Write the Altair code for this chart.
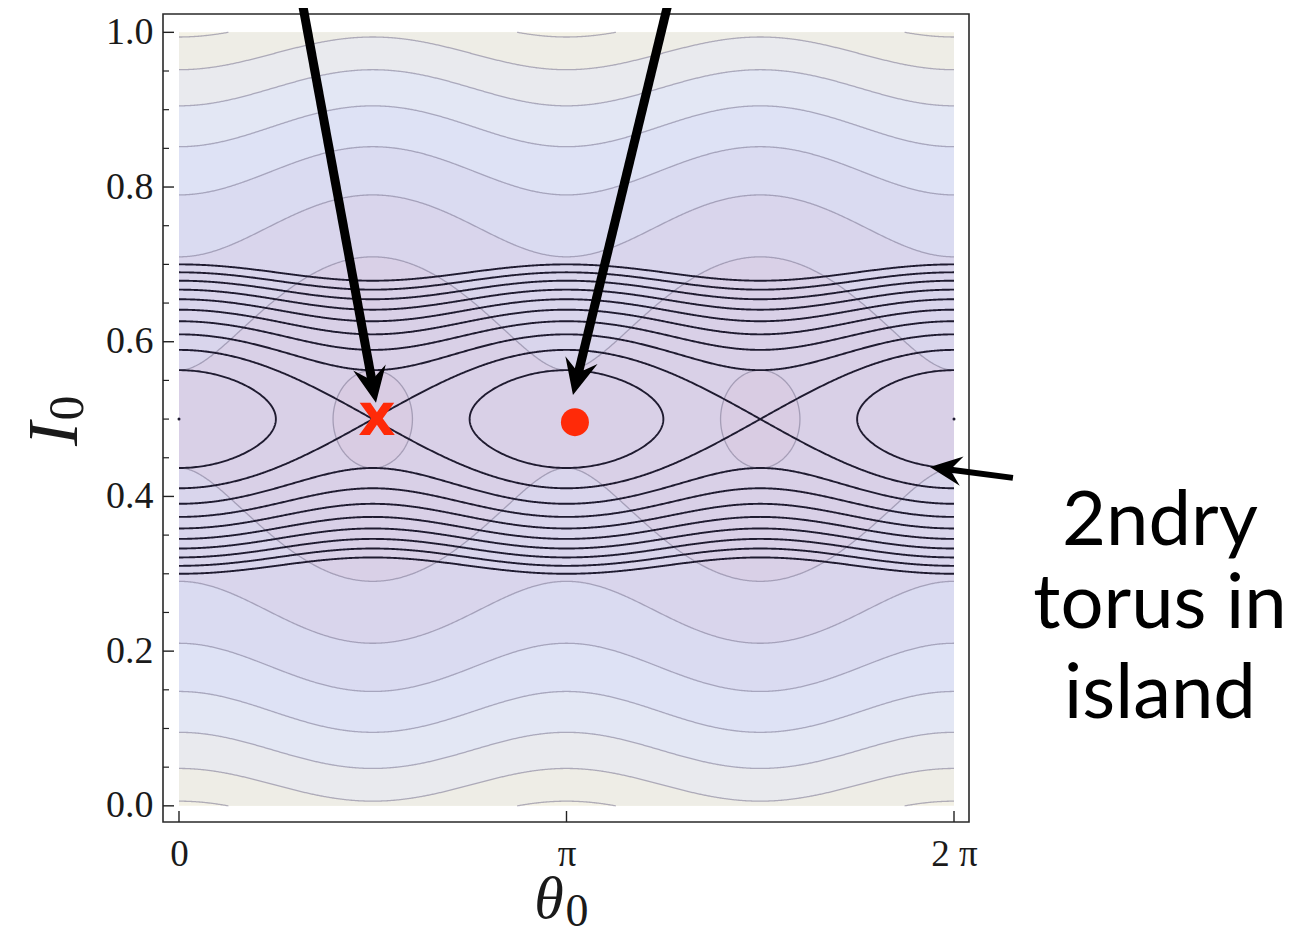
import numpy as np
import pandas as pd
import altair as alt

# ---------------- values ----------------
I_RES = 0.5                     # resonance centre in I0
A_RES = 0.004                   # black contours: H = (I-I_RES)^2 - A_RES*cos(2*theta)
H_LEVEL_STEPS = [0, 1, 2, 3, 4, 5, 6, 7, 8, 9]      # drawn levels H = k*A_RES
H_CENTRES = [0.0, np.pi, 2 * np.pi]                 # elliptic points (level -A_RES)
B_BG = 0.02                     # background: G = (I-I_RES)^2 + B_BG*cos(2*theta)
G_LEVELS = [-0.016, 0.024, 0.064, 0.104, 0.144, 0.184, 0.224, 0.264]
G_CENTRES = [np.pi / 2, 3 * np.pi / 2]
BAND_COLORS = ["#d9cce3", "#d9d0e7", "#d9d5ec", "#dadbf1", "#dee2f5",
               "#e3e7f4", "#e9eaee", "#eeede6", "#f3f1e5"]
X_TICKS = [0.0, np.pi, 2 * np.pi]
X_TICK_LABELS = ["0", "π", "2 π"]
Y_TICKS = [0.0, 0.2, 0.4, 0.6, 0.8, 1.0]
Y_MINOR_TICKS = [0.05, 0.1, 0.15, 0.25, 0.3, 0.35, 0.45, 0.5, 0.55,
                 0.65, 0.7, 0.75, 0.85, 0.9, 0.95]
X_POINT = [1.605, 0.499]        # red "x" (hyperbolic point)
O_POINT = [3.210, 0.496]        # red dot (elliptic point)
ARROW_TIPS = [[1.597, 0.521], [3.194, 0.531], [6.088, 0.438]]
ARROW_TAILS = [[0.965, 1.068], [4.012, 1.068], [6.761, 0.424]]
ARROW_WIDTHS = [9, 9, 6]
ARROW_HEADS = [36, 36, 32]
NOTE_LINES = ["2ndry", "torus in", "island"]
NOTE_THETA = 7.953
NOTE_I = [0.367, 0.260, 0.143]

# ---------------- layout ----------------
W, H = 806, 808
XDOM = [-0.1297, 2 * np.pi + 0.1216]
YDOM = [-0.0209, 1.0237]
KX = W / (XDOM[1] - XDOM[0])
KY = H / (YDOM[1] - YDOM[0])
RED = "#ff2a08"
SERIF = "Liberation Serif"
INK = "#1a1a1a"

xs = alt.Scale(domain=XDOM, nice=False, zero=False)
ys = alt.Scale(domain=YDOM, nice=False, zero=False)

thr = [(X_TICKS[i] + X_TICKS[i + 1]) / 2 for i in range(len(X_TICKS) - 1)]
expr = f"'{X_TICK_LABELS[-1]}'"
for t, lab in reversed(list(zip(thr, X_TICK_LABELS[:-1]))):
    expr = f"datum.value < {t:.4f} ? '{lab}' : ({expr})"

xaxis = alt.Axis(values=X_TICKS, labelExpr=expr, title=None, ticks=False, tickSize=0,
                 domain=False, grid=False, labelPadding=14, labelFont=SERIF,
                 labelFontSize=37, labelColor=INK, labelFlush=False)
yaxis = alt.Axis(values=Y_TICKS, format=".1f", title=None, ticks=False, tickSize=0,
                 domain=False, grid=False, labelPadding=10, labelFont=SERIF,
                 labelFontSize=38, labelColor=INK, labelFlush=False)


def X(f):
    return alt.X(f, type="quantitative", scale=xs, axis=xaxis)


def Y(f):
    return alt.Y(f, type="quantitative", scale=ys, axis=yaxis)


def runs(mask, extend=True):
    idx = np.flatnonzero(mask)
    if len(idx) == 0:
        return []
    sp = np.where(np.diff(idx) > 1)[0]
    starts = np.r_[idx[0], idx[sp + 1]]
    ends = np.r_[idx[sp], idx[-1]]
    if not extend:
        return list(zip(starts, ends))
    return [(max(s - 1, 0), min(e + 1, len(mask) - 1)) for s, e in zip(starts, ends)]


TH = np.linspace(0, 2 * np.pi, 801)
layers = []

# ---- shaded bands of the background function ----
base = alt.Chart(pd.DataFrame({"t0": [0.0], "t1": [2 * np.pi], "i0": [0.0], "i1": [1.0]})
                 ).mark_rect(color=BAND_COLORS[-1]).encode(
    x=X("t0"), x2="t1", y=Y("i0"), y2="i1")
layers.append(base)

for k in range(len(G_LEVELS) - 1, -1, -1):
    L = G_LEVELS[k]
    if L > B_BG:
        p = np.sqrt(L - B_BG * np.cos(2 * TH))
        df = pd.DataFrame({"theta": TH, "lo": np.clip(I_RES - p, 0, 1),
                           "hi": np.clip(I_RES + p, 0, 1), "seg": 0})
    else:
        parts = []
        phi0 = 0.5 * np.arccos(-L / B_BG)
        phi = phi0 * np.sin(np.linspace(-np.pi / 2, np.pi / 2, 121))
        p = np.sqrt(np.clip(L + B_BG * np.cos(2 * phi), 0, None))
        for j, c in enumerate(G_CENTRES):
            parts.append(pd.DataFrame({"theta": c + phi, "lo": I_RES - p,
                                       "hi": I_RES + p, "seg": j}))
        df = pd.concat(parts)
    layers.append(alt.Chart(df).mark_area(color=BAND_COLORS[k], opacity=1).encode(
        x=X("theta"), y=Y("lo"), y2="hi", detail="seg:N"))

# ---- grey contour lines of the background function ----
grey = []
sid = 0
for L in G_LEVELS:
    if L > B_BG:
        p = np.sqrt(L - B_BG * np.cos(2 * TH))
        for sgn in (1, -1):
            I = I_RES + sgn * p
            for s, e in runs((I >= 0) & (I <= 1)):
                grey.append(pd.DataFrame({"theta": TH[s:e + 1], "I": np.clip(I[s:e + 1], 0, 1),
                                          "k": np.arange(e - s + 1), "seg": sid}))
                sid += 1
    else:
        phi0 = 0.5 * np.arccos(-L / B_BG)
        phi = phi0 * np.sin(np.linspace(-np.pi / 2, np.pi / 2, 121))
        p = np.sqrt(np.clip(L + B_BG * np.cos(2 * phi), 0, None))
        for c in G_CENTRES:
            th = np.r_[c + phi, c + phi[::-1]]
            I = np.r_[I_RES + p, I_RES - p[::-1]]
            grey.append(pd.DataFrame({"theta": th, "I": I, "k": np.arange(len(th)), "seg": sid}))
            sid += 1
grey = pd.concat(grey)
layers.append(alt.Chart(grey).mark_line(color="#7a7590", strokeWidth=1.3, opacity=0.55).encode(
    x=X("theta"), y=Y("I"), detail="seg:N", order="k:Q"))

# ---- black contours of the resonance Hamiltonian ----
blk = []
sid = 0
for n in H_LEVEL_STEPS:
    if n == 0:
        phi = (np.pi / 4) * np.sin(np.linspace(-np.pi / 2, np.pi / 2, 161))
        p = np.sqrt(np.clip(A_RES * np.cos(2 * phi), 0, None))
        for c in H_CENTRES:
            th = c + phi
            for sgn in (1, -1):
                I = I_RES + sgn * p
                for s, e in runs((th >= -1e-9) & (th <= 2 * np.pi + 1e-9), extend=False):
                    blk.append(pd.DataFrame({"theta": th[s:e + 1], "I": I[s:e + 1],
                                             "k": np.arange(e - s + 1), "seg": sid}))
                    sid += 1
    else:
        p = np.sqrt(np.clip(A_RES * (n + np.cos(2 * TH)), 0, None))
        for sgn in (1, -1):
            blk.append(pd.DataFrame({"theta": TH, "I": I_RES + sgn * p,
                                     "k": np.arange(len(TH)), "seg": sid}))
            sid += 1
blk = pd.concat(blk)
layers.append(alt.Chart(blk).mark_line(color="#1f1b30", strokeWidth=1.9).encode(
    x=X("theta"), y=Y("I"), detail="seg:N", order="k:Q"))

centres = pd.DataFrame({"theta": H_CENTRES, "I": [I_RES] * len(H_CENTRES)})
layers.append(alt.Chart(centres).mark_point(filled=True, size=9, color="#1f1b30", opacity=1).encode(
    x=X("theta"), y=Y("I")))

# ---- frame ticks (inward) ----
layers.append(alt.Chart(pd.DataFrame({"v": Y_TICKS})).mark_rule(color="#222", strokeWidth=1.4).encode(
    y=Y("v"), x=alt.value(0), x2=alt.value(11)))
layers.append(alt.Chart(pd.DataFrame({"v": Y_MINOR_TICKS})).mark_rule(color="#222", strokeWidth=1.2).encode(
    y=Y("v"), x=alt.value(0), x2=alt.value(6)))
layers.append(alt.Chart(pd.DataFrame({"v": X_TICKS})).mark_rule(color="#222", strokeWidth=1.4).encode(
    x=X("v"), y=alt.value(H), y2=alt.value(H - 11)))

# ---- red markers ----
layers.append(alt.Chart(pd.DataFrame({"theta": [O_POINT[0]], "I": [O_POINT[1]]})).mark_point(
    shape="circle", filled=True, size=784, color=RED, opacity=1).encode(x=X("theta"), y=Y("I")))
layers.append(alt.Chart(pd.DataFrame({"theta": [X_POINT[0]], "I": [X_POINT[1]]})).mark_text(
    text="x", font="DejaVu Sans", fontWeight="bold", fontSize=58, color=RED,
    baseline="alphabetic", align="center", dy=15).encode(x=X("theta"), y=Y("I")))

# ---- arrows ----
shafts, heads = [], []
for (tt, ti), (st, si), w, hs in zip(ARROW_TIPS, ARROW_TAILS, ARROW_WIDTHS, ARROW_HEADS):
    tx, ty = (tt - XDOM[0]) * KX, (YDOM[1] - ti) * KY
    sx, sy = (st - XDOM[0]) * KX, (YDOM[1] - si) * KY
    d = np.hypot(tx - sx, ty - sy)
    ux, uy = (tx - sx) / d, (ty - sy) / d
    ex, ey = tx - ux * hs * 0.6, ty - uy * hs * 0.6
    cx, cy = tx - ux * hs / 2, ty - uy * hs / 2
    shafts.append({"t0": st, "i0": si, "t1": XDOM[0] + ex / KX, "i1": YDOM[1] - ey / KY, "w": w})
    heads.append({"theta": XDOM[0] + cx / KX, "I": YDOM[1] - cy / KY,
                  "ang": float(np.degrees(np.arctan2(ux, -uy)) % 360), "size": hs * hs})
layers.append(alt.Chart(pd.DataFrame(shafts)).mark_rule(color="black", strokeCap="butt").encode(
    x=X("t0"), y=Y("i0"), x2="t1", y2="i1", strokeWidth=alt.StrokeWidth("w:Q", scale=None)))
layers.append(alt.Chart(pd.DataFrame(heads)).mark_point(
    shape="M0,-1 L0.92,1 L0,0.28 L-0.92,1 Z", filled=True, color="black", opacity=1, strokeWidth=0).encode(
    x=X("theta"), y=Y("I"), angle=alt.Angle("ang:Q", scale=None), size=alt.Size("size:Q", scale=None)))

# ---- note text ----
layers.append(alt.Chart(pd.DataFrame({"theta": [NOTE_THETA] * 3, "I": NOTE_I, "txt": NOTE_LINES})).mark_text(
    font="Lato", fontSize=76, color="black", align="center", baseline="middle").encode(
    x=X("theta"), y=Y("I"), text="txt:N"))

# ---- axis titles ----
layers.append(alt.Chart(pd.DataFrame({"a": [0]})).mark_text(
    text="θ", font=SERIF, fontStyle="italic", fontSize=60, color=INK,
    align="center", baseline="alphabetic").encode(x=alt.value(386), y=alt.value(904)))
layers.append(alt.Chart(pd.DataFrame({"a": [0]})).mark_text(
    text="0", font=SERIF, fontSize=46, color=INK,
    align="center", baseline="alphabetic").encode(x=alt.value(414), y=alt.value(912)))
layers.append(alt.Chart(pd.DataFrame({"a": [0]})).mark_text(
    text="I", font=SERIF, fontStyle="italic", fontSize=72, color=INK, angle=270,
    align="center", baseline="alphabetic").encode(x=alt.value(-86), y=alt.value(420)))
layers.append(alt.Chart(pd.DataFrame({"a": [0]})).mark_text(
    text="0", font=SERIF, fontSize=50, color=INK, angle=270,
    align="center", baseline="alphabetic").encode(x=alt.value(-80), y=alt.value(394)))

chart = alt.layer(*layers).properties(
    width=W, height=H,
    padding={"left": 155, "top": 6, "right": 320, "bottom": 116},
    autosize=alt.AutoSizeParams(type="none"),
    background="white",
).configure_view(stroke="#2a2a2a", strokeWidth=1.6)

chart.save("out.html", embed_options={"renderer": "svg", "actions": False})
